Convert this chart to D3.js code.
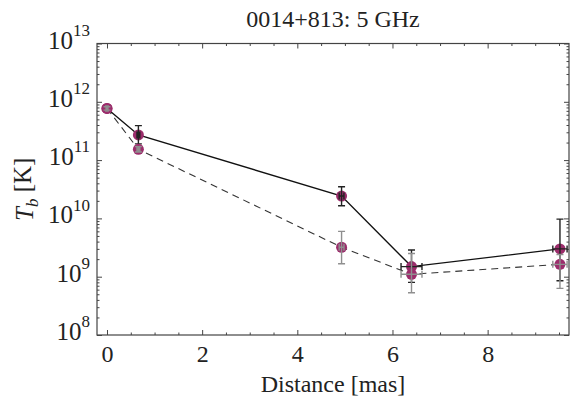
<!DOCTYPE html>
<html>
<head>
<meta charset="utf-8">
<script src="https://cdn.jsdelivr.net/npm/d3@7"></script>
<style>
    body { margin: 0; background: #fff; }
</style>
</head>
<body>
<div id="chart"></div>
<script>
// data
const distance = [0, 0.66, 4.93, 6.40, 9.52];
const distErr = [0.02, 0.03, 0.05, 0.22, 0.15];

// solid line series
const tbSolid = [7.7e11, 2.7e11, 2.42e10, 1.49e9, 3.0e9];
const tbSolidHi = [8.2e11, 3.9e11, 3.5e10, 2.87e9, 9.7e9];
const tbSolidLo = [7.2e11, 1.9e11, 1.65e10, 8.0e8, 8.5e8];

// dashed line series
const tbDashed = [7.7e11, 1.53e11, 3.2e9, 1.1e9, 1.63e9];
const tbDashedHi = [8.2e11, 1.7e11, 6.0e9, 2.5e9, 2.4e9];
const tbDashedLo = [7.2e11, 1.38e11, 1.67e9, 5.3e8, 6.3e8];

const xTicks = [0, 2, 4, 6, 8];
const yExponents = [8, 9, 10, 11, 12, 13];

const serif = '"Liberation Serif"';

const margin = {top: 43.5, right: 1, bottom: 64, left: 97};
const width = 570 - margin.left - margin.right;
const height = 399 - margin.top - margin.bottom;

const svg = d3.select("#chart").append("svg")
    .attr("width", 570)
    .attr("height", 399);

const g = svg.append("g")
    .attr("transform", `translate(${margin.left}, ${margin.top})`);

// scales
const x = d3.scaleLinear().domain([-0.21, 9.71]).range([0, width]);
const y = d3.scaleLog().domain([1e8, 1e13]).range([height, 0]);

// minor tick values
const xMinor = d3.range(0, 9.6, 0.5).filter(v => v % 2 !== 0);
const yMinor = [];
for (let e = 8; e < 13; e++) {
    for (let m = 2; m <= 9; m++) yMinor.push(m * Math.pow(10, e));
}

// frame
g.append("rect")
    .attr("width", width)
    .attr("height", height)
    .attr("fill", "none")
    .attr("stroke", "#444")
    .attr("stroke-width", 1.2);

// axes: major + minor, inward ticks
function addAxis(axis, transform, cls) {
    const a = g.append("g")
        .attr("class", "axis " + cls)
        .attr("transform", transform)
        .call(axis);
    a.select(".domain").remove();
    a.selectAll(".tick line").attr("stroke", "#444").attr("stroke-width", 1);
    return a;
}

const xAxis = addAxis(d3.axisBottom(x).tickValues(xTicks).tickSize(-5).tickPadding(10).tickFormat(d3.format("d")),
    `translate(0, ${height})`, "x-axis");
xAxis.selectAll("text")
    .style("font-family", serif)
    .style("font-size", "24px")
    .attr("fill", "#222");
addAxis(d3.axisBottom(x).tickValues(xMinor).tickSize(-2.5).tickFormat(""), `translate(0, ${height})`, "x-minor");
addAxis(d3.axisTop(x).tickValues(xTicks).tickSize(-5).tickFormat(""), "translate(0, 0)", "x-top");
addAxis(d3.axisTop(x).tickValues(xMinor).tickSize(-2.5).tickFormat(""), "translate(0, 0)", "x-top-minor");

const yAxis = addAxis(d3.axisLeft(y).tickValues(yExponents.map(e => Math.pow(10, e))).tickSize(-5).tickPadding(7),
    "translate(0, 0)", "y-axis");
addAxis(d3.axisLeft(y).tickValues(yMinor).tickSize(-2.5).tickFormat(""), "translate(0, 0)", "y-minor");
addAxis(d3.axisRight(y).tickValues(yExponents.map(e => Math.pow(10, e))).tickSize(-5).tickFormat(""),
    `translate(${width}, 0)`, "y-right");
addAxis(d3.axisRight(y).tickValues(yMinor).tickSize(-2.5).tickFormat(""), `translate(${width}, 0)`, "y-right-minor");

// power-of-ten labels
yAxis.selectAll(".tick text")
    .text(null)
    .attr("dy", "0.45em")
    .attr("fill", "#222")
    .style("font-family", serif)
    .each(function(d) {
        const t = d3.select(this);
        t.append("tspan").text("10").style("font-family", serif).style("font-size", "25px");
        t.append("tspan").text(Math.round(Math.log10(d)))
            .style("font-family", serif)
            .style("font-size", "17px")
            .attr("dy", "-0.75em");
    });

// lines
const line = d3.line()
    .x(d => x(d.d))
    .y(d => y(d.v));

const solidData = distance.map((d, i) => ({d: d, v: tbSolid[i], hi: tbSolidHi[i], lo: tbSolidLo[i], xe: distErr[i]}));
const dashedData = distance.map((d, i) => ({d: d, v: tbDashed[i], hi: tbDashedHi[i], lo: tbDashedLo[i], xe: distErr[i]}));

g.append("path")
    .datum(dashedData)
    .attr("d", line)
    .attr("fill", "none")
    .attr("stroke", "#333")
    .attr("stroke-width", 1.1)
    .attr("stroke-dasharray", "7,5");

g.append("path")
    .datum(solidData)
    .attr("d", line)
    .attr("fill", "none")
    .attr("stroke", "#111")
    .attr("stroke-width", 1.4);

// markers with error bars
function drawPoints(data, barColor, cls) {
    const pts = g.selectAll("." + cls)
        .data(data)
        .enter().append("g")
        .attr("class", cls);

    pts.append("circle")
        .attr("cx", d => x(d.d))
        .attr("cy", d => y(d.v))
        .attr("r", 5.5)
        .attr("fill", "#9c2d6c");

    const cap = 3.5;
    pts.append("path")
        .attr("d", d => {
            const cx = x(d.d), cy = y(d.v);
            const yh = y(d.hi), yl = y(d.lo);
            const xl = x(d.d - d.xe), xr = x(d.d + d.xe);
            return `M${cx},${yh}V${yl}` +
                `M${cx - cap},${yh}H${cx + cap}M${cx - cap},${yl}H${cx + cap}` +
                `M${xl},${cy}H${xr}` +
                `M${xl},${cy - cap}V${cy + cap}M${xr},${cy - cap}V${cy + cap}`;
        })
        .attr("fill", "none")
        .attr("stroke", barColor)
        .attr("stroke-width", 1.4);
}

drawPoints(solidData, "#222", "pt-solid");
drawPoints(dashedData, "#8f8f8f", "pt-dashed");

// title and axis labels
svg.append("text")
    .attr("x", margin.left + width / 2)
    .attr("y", 27)
    .attr("text-anchor", "middle")
    .attr("fill", "#222")
    .style("font-family", serif)
    .style("font-size", "24px")
    .text("0014+813: 5 GHz");

svg.append("text")
    .attr("x", margin.left + width / 2)
    .attr("y", 392)
    .attr("text-anchor", "middle")
    .attr("fill", "#222")
    .style("font-family", serif)
    .style("font-size", "24px")
    .text("Distance [mas]");

const yl = svg.append("text")
    .attr("transform", `translate(33, ${margin.top + height / 2}) rotate(-90)`)
    .attr("text-anchor", "middle")
    .attr("fill", "#222")
    .style("font-family", serif)
    .style("font-size", "25px");
yl.append("tspan").text("T").style("font-family", serif).style("font-style", "italic");
yl.append("tspan").text("b").style("font-family", serif).style("font-style", "italic").style("font-size", "17px").attr("dy", "0.3em");
yl.append("tspan").text(" [K]").style("font-family", serif).attr("dy", "-0.3em");
</script>
</body>
</html>
